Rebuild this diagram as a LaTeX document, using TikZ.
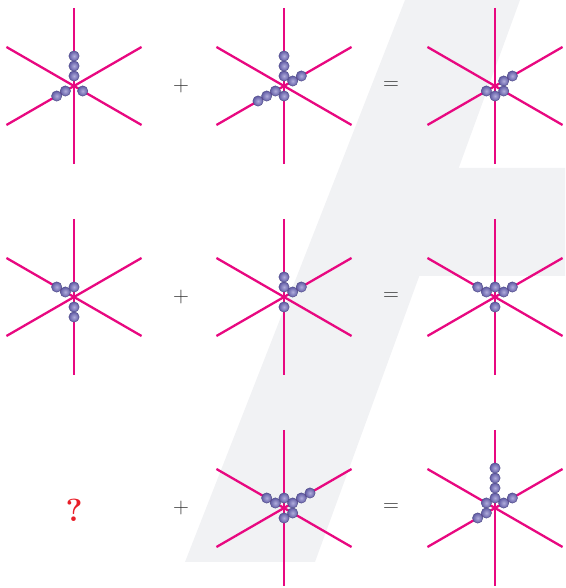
\documentclass[tikz,border=0pt]{standalone}
\definecolor{rayc}{RGB}{232,8,128}
\definecolor{beadc}{RGB}{112,106,192}
\definecolor{bgc}{RGB}{241,242,244}
\definecolor{opc}{RGB}{55,55,55}
\definecolor{qc}{RGB}{232,30,40}
\tikzset{
  ray/.style={draw=rayc, line width=2.3pt},
  bead/.style={draw=beadc!70!black, line width=0.4pt, inner color=beadc!55!white, outer color=beadc!85!black},
  optext/.style={text=opc, font=\fontsize{22}{24}\selectfont, inner sep=0pt},
  qtext/.style={text=qc, font=\bfseries\fontsize{32}{34}\selectfont, inner sep=0pt}
}
\newcommand\hexstar[2]{%
  \begin{scope}[shift={(#1,#2)}]
    \foreach \a in {90,30,-30} \draw[ray] (\a:78) -- (\a+180:78);
  \end{scope}}
\newcommand\beadline[4]{%
  \begin{scope}[shift={(#1,#2)}]
    \foreach \k in {1,...,#4} \shadedraw[bead] ({#3}:{10*\k}) circle (5.2);
  \end{scope}}
\begin{document}
\begin{tikzpicture}[x=1pt,y=1pt]
\useasboundingbox (0,0) rectangle (565,588);
\fill[bgc] (405,588) -- (520,588) -- (458.7,420) -- (565,420) -- (565,312) -- (419.3,312) -- (315,26) -- (185,26) -- cycle;
% row 1
\hexstar{74}{502}
\beadline{74}{502}{90}{3}
\beadline{74}{502}{210}{2}
\beadline{74}{502}{-30}{1}
\hexstar{284}{502}
\beadline{284}{502}{90}{3}
\beadline{284}{502}{30}{2}
\beadline{284}{502}{210}{3}
\beadline{284}{502}{-90}{1}
\hexstar{495}{502}
\beadline{495}{502}{30}{2}
\beadline{495}{502}{210}{1}
\beadline{495}{502}{-90}{1}
\beadline{495}{502}{-30}{1}
% row 2
\hexstar{74}{291}
\beadline{74}{291}{150}{2}
\beadline{74}{291}{90}{1}
\beadline{74}{291}{-90}{2}
\hexstar{284}{291}
\beadline{284}{291}{90}{2}
\beadline{284}{291}{30}{2}
\beadline{284}{291}{-90}{1}
\hexstar{495}{291}
\beadline{495}{291}{150}{2}
\beadline{495}{291}{90}{1}
\beadline{495}{291}{30}{2}
\beadline{495}{291}{-90}{1}
% row 3
\hexstar{284}{80}
\beadline{284}{80}{150}{2}
\beadline{284}{80}{90}{1}
\beadline{284}{80}{30}{3}
\beadline{284}{80}{-30}{1}
\beadline{284}{80}{-90}{1}
\hexstar{495}{80}
\beadline{495}{80}{90}{4}
\beadline{495}{80}{150}{1}
\beadline{495}{80}{30}{2}
\beadline{495}{80}{210}{2}
% operators
\node[optext] (plusA) at (181,502) {+};
\node[optext] (plusB) at (181,291) {+};
\node[optext] (plusC) at (181,80) {+};
\node[optext] (eqA) at (391,502) {=};
\node[optext] (eqB) at (391,291) {=};
\node[optext] (eqC) at (391,80) {=};
\node[qtext] (q) at (74,78) {?};
\end{tikzpicture}
\end{document}
